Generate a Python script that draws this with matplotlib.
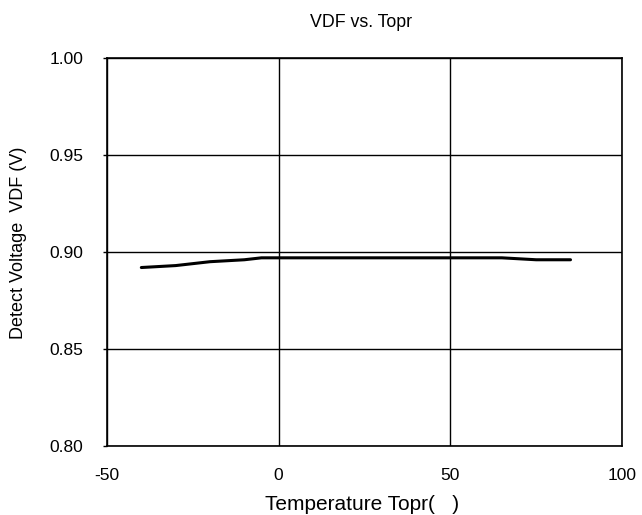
import matplotlib
matplotlib.use("Agg")
import matplotlib.pyplot as plt

temps = [-40, -30, -20, -10, -5, 0, 10, 20, 30, 40, 50, 60, 65, 75, 85]
vdf = [0.892, 0.893, 0.895, 0.896, 0.897, 0.897, 0.897, 0.897, 0.897, 0.897, 0.897, 0.897, 0.897, 0.896, 0.896]
xticks = [-50, 0, 50, 100]
yticks = [0.80, 0.85, 0.90, 0.95, 1.00]
title = "VDF vs. Topr"
xlabel = "Temperature Topr(   )"
ylabel = "Detect Voltage  VDF (V)"

plt.rcParams['font.family'] = ['Liberation Sans', 'DejaVu Sans']

W, H = 642, 515
fig = plt.figure(figsize=(W/100, H/100), dpi=100)
ax = fig.add_axes([107/W, 1-446/H, (622-107)/W, (446-58)/H])
ax.plot(temps, vdf, color='black', lw=2.2, solid_capstyle='round', zorder=3)
ax.set_xlim(-50, 100)
ax.set_ylim(0.80, 1.00)
ax.set_xticks(xticks)
ax.set_xticklabels([str(t) for t in xticks])
ax.set_yticks(yticks)
ax.set_yticklabels([f"{v:.2f}" for v in yticks])
ax.grid(True, color='black', lw=1.0)
ax.set_axisbelow(True)
for s in ax.spines.values():
    s.set_linewidth(1.2)
ax.tick_params(axis='x', length=0, labelsize=12.5, pad=15.8)
ax.tick_params(axis='y', length=3, width=1.0, labelsize=12.5, pad=14.2, direction='out')

fig.text(361/W, 1-27.3/H, title, fontsize=12.8, ha='center', va='baseline')
fig.text(362/W, 1-510/H, xlabel, fontsize=15, ha='center', va='baseline')
fig.text(10/W, 1-243/H, ylabel, fontsize=13, ha='left', va='center', rotation=90)
fig.savefig("out.png", dpi=100)
